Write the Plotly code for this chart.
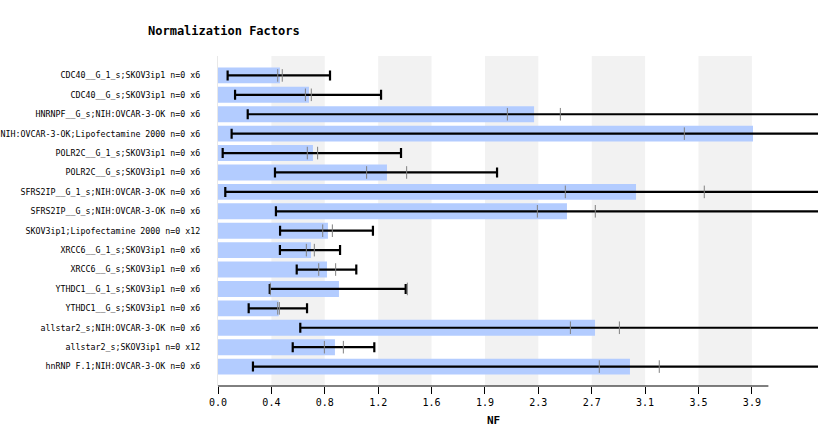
import plotly.graph_objects as go

categories = [
    "CDC40__G_1_s;SKOV3ip1 n=0 x6",
    "CDC40__G_s;SKOV3ip1 n=0 x6",
    "HNRNPF__G_s;NIH:OVCAR-3-OK n=0 x6",
    "NIH:OVCAR-3-OK;Lipofectamine 2000 n=0 x6",
    "POLR2C__G_1_s;SKOV3ip1 n=0 x6",
    "POLR2C__G_s;SKOV3ip1 n=0 x6",
    "SFRS2IP__G_1_s;NIH:OVCAR-3-OK n=0 x6",
    "SFRS2IP__G_s;NIH:OVCAR-3-OK n=0 x6",
    "SKOV3ip1;Lipofectamine 2000 n=0 x12",
    "XRCC6__G_1_s;SKOV3ip1 n=0 x6",
    "XRCC6__G_s;SKOV3ip1 n=0 x6",
    "YTHDC1__G_1_s;SKOV3ip1 n=0 x6",
    "YTHDC1__G_s;SKOV3ip1 n=0 x6",
    "allstar2_s;NIH:OVCAR-3-OK n=0 x6",
    "allstar2_s;SKOV3ip1 n=0 x12",
    "hnRNP F.1;NIH:OVCAR-3-OK n=0 x6",
]
nf = [0.45, 0.661, 2.297, 3.888, 0.690, 1.228, 3.038, 2.536,
      0.799, 0.676, 0.792, 0.879, 0.441, 2.740, 0.850, 2.994]
err_low = [0.07, 0.124, 0.216, 0.099, 0.034, 0.414, 0.053, 0.421,
           0.451, 0.45, 0.572, 0.376, 0.223, 0.598, 0.543, 0.254]
err_high = [0.814, 1.185, 4.38, 7.68, 1.330, 2.028, 6.02, 4.65,
            1.126, 0.887, 1.005, 1.364, 0.647, 4.88, 1.136, 5.73]
mark_lo = [0.434, 0.635, 2.103, 3.389, 0.649, 1.080, 2.524, 2.321,
           0.761, 0.642, 0.732, 0.38, 0.434, 2.561, 0.773, 2.771]
mark_hi = [0.467, 0.678, 2.488, 4.40, 0.724, 1.371, 3.534, 2.742,
           0.831, 0.700, 0.855, 1.376, 0.446, 2.917, 0.911, 3.207]
tick_labels = ["0.0", "0.4", "0.8", "1.2", "1.6", "1.9", "2.3", "2.7", "3.1", "3.5", "3.9"]
tick_step = 0.388
axis_max = 4.0

rows = list(range(len(categories)))
tickvals = [i * tick_step for i in range(len(tick_labels))]

ML, MT, W, H = 218, 56, 818, 446
PX_PER_UNIT = 137.6
plot_w = W - ML

fig = go.Figure()

fig.add_trace(go.Bar(
    x=nf, y=rows, orientation="h", width=0.82,
    marker=dict(color="#b3ccff", line=dict(width=0)),
    error_x=dict(type="data", symmetric=False,
                 array=[h - v for h, v in zip(err_high, nf)],
                 arrayminus=[v - l for v, l in zip(nf, err_low)],
                 color="black", thickness=2.2, width=5),
    hoverinfo="skip",
))

fig.add_trace(go.Scatter(
    x=mark_lo + mark_hi, y=rows + rows, mode="markers",
    marker=dict(symbol="line-ns", size=9, line=dict(color="#808080", width=1)),
    hoverinfo="skip", cliponaxis=True,
))

shapes = []
for i in range(1, len(tickvals) - 1, 2):
    shapes.append(dict(type="rect", xref="x", yref="paper",
                       x0=tickvals[i], x1=tickvals[i + 1], y0=0, y1=1,
                       fillcolor="#f2f2f2", line=dict(width=0), layer="below"))
shapes.append(dict(type="line", xref="x", yref="paper", x0=0, x1=axis_max,
                   y0=0, y1=0, line=dict(color="black", width=1)))

fig.update_layout(
    width=W, height=H,
    margin=dict(l=ML, r=0, t=MT, b=60, autoexpand=False),
    paper_bgcolor="white", plot_bgcolor="white",
    showlegend=False,
    shapes=shapes,
    font=dict(family="DejaVu Sans Mono", color="black"),
    annotations=[
        dict(text="<b>Normalization Factors</b>", xref="paper", yref="paper",
             x=(146 - ML) / plot_w, y=1, yshift=25, xanchor="left", yanchor="middle",
             showarrow=False, font=dict(size=12, family="DejaVu Sans Mono")),
        dict(text="<b>NF</b>", xref="x", yref="paper", x=axis_max / 2, y=0,
             yshift=-34, xanchor="center", yanchor="middle", showarrow=False,
             font=dict(size=11, family="DejaVu Sans Mono")),
    ],
)

fig.update_xaxes(range=[0, plot_w / PX_PER_UNIT], tickvals=tickvals, ticktext=tick_labels,
                 ticks="outside", ticklen=7, tickcolor="black", tickwidth=1,
                 showgrid=False, zeroline=False, showline=False, automargin=False,
                 tickfont=dict(size=10, family="DejaVu Sans Mono"), fixedrange=True)
fig.update_yaxes(range=[16, -1], tickvals=rows, ticktext=categories,
                 showgrid=False, zeroline=False, showline=True, linecolor="#e8e8e8",
                 ticks="", ticklabelstandoff=15, automargin=False,
                 tickfont=dict(size=8.3, family="DejaVu Sans Mono"), fixedrange=True)

fig.write_html("out.html", config={"displayModeBar": False},
               post_script="document.body.style.margin='0';document.body.style.overflow='hidden';")
